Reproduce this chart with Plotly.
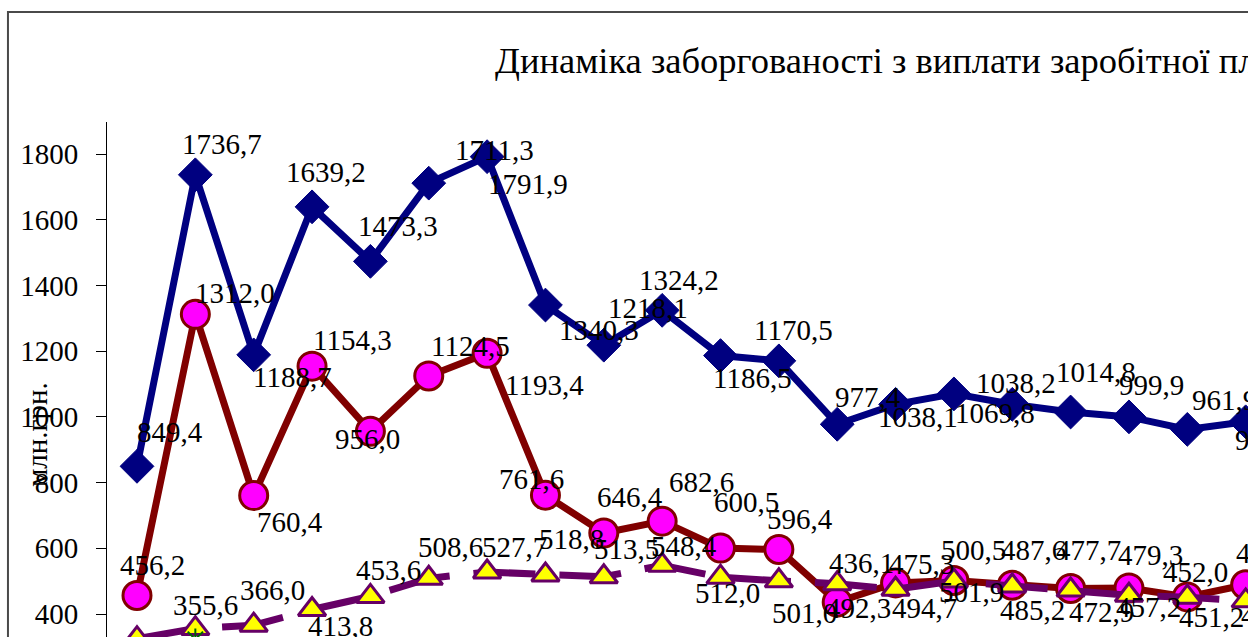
import plotly.graph_objects as go

# ---------------- data ----------------
periods = list(range(20))  # positions of the periods visible in the crop

title_text = "Динаміка заборгованості з виплати заробітної пл"
y_title = "млн.грн."
y_ticks = [400, 600, 800, 1000, 1200, 1400, 1600, 1800]

series_blue = [849.4, 1736.7, 1188.7, 1639.2, 1473.3, 1711.3, 1791.9, 1340.3,
               1218.1, 1324.2, 1186.5, 1170.5, 977.4, 1038.1, 1069.8, 1038.2,
               1014.8, 999.9, 961.9, 985.0]
series_red = [456.2, 1312.0, 760.4, 1154.3, 956.0, 1124.5, 1193.4, 761.6,
              646.4, 682.6, 600.5, 596.4, 436.1, 494.7, 501.9, 487.6,
              477.7, 479.3, 452.0, 489.0]
series_purple = [325.0, 355.6, 366.0, 413.8, 453.6, 508.6, 527.7, 518.8,
                 513.5, 548.4, 512.0, 501.0, 492.3, 475.3, 500.5, 485.2,
                 472.9, 457.2, 451.2, 440.0]
series_green = [None, 323.0] + [None] * 18

# ---------------- label offsets (style: pixel shifts dx, dy(down)) ----------------
off_blue = [(33, -34), (27, -31), (39, 22), (14, -35), (28, -35), (66, -33), (41, 27),
            (54, 25), (44, -37), (17, -30), (32, 22), (15, -31), (31, -27), (22, 13),
            (41, 19), (4, -21), (25, -40), (23, -32), (37, -29), (22, 18)]
off_red = [(16, -31), (40, -21), (36, 26), (40, -26), (-3, 8), (42, -30), (57, 32),
           (-14, -16), (26, -36), (39, -39), (26, -46), (21, -30), (24, -39), (29, 25),
           (18, 11), (21, -35), (18, -38), (22, -33), (8, -25), (23, -32)]
off_purple = [(15, -30), (10, -24), (19, -35), (28, 17), (18, -26), (22, -31), (27, -25),
              (26, -36), (23, -28), (22, -19), (7, 16), (26, 32), (21, 24), (26, -25),
              (20, -31), (20, 24), (31, 22), (20, 12), (24, 20), (28, 14)]

SERIF = "Liberation Serif, Times New Roman, serif"
NAVY = "#000080"
MAROON = "#800000"
PURPLE = "#660066"

fig = go.Figure()

fig.add_trace(go.Scatter(
    x=periods, y=series_blue, mode="lines+markers",
    line=dict(color=NAVY, width=7),
    marker=dict(symbol="diamond", size=26, color=NAVY, line=dict(color=NAVY, width=1)),
    hoverinfo="skip"))

fig.add_trace(go.Scatter(
    x=periods, y=series_red, mode="lines+markers",
    line=dict(color=MAROON, width=7),
    marker=dict(symbol="circle", size=28, color="#FF00FF", line=dict(color=MAROON, width=3)),
    hoverinfo="skip"))

fig.add_trace(go.Scatter(
    x=periods, y=series_purple, mode="lines+markers",
    line=dict(color=PURPLE, width=7, dash="62px,24px"),
    marker=dict(symbol="triangle-up", size=24, color="#FFFF00", line=dict(color=PURPLE, width=3)),
    hoverinfo="skip"))

fig.add_trace(go.Scatter(
    x=periods, y=series_green, mode="markers",
    marker=dict(symbol="asterisk-open", size=18, color="#006600", line=dict(color="#006600", width=2)),
    hoverinfo="skip"))

def fmt(v):
    return f"{v:.1f}".replace(".", ",")

annotations = []
for vals, offs in ((series_blue, off_blue), (series_red, off_red), (series_purple, off_purple)):
    for xi, v, (dx, dy) in zip(periods, vals, offs):
        annotations.append(dict(
            x=xi, y=v, xref="x", yref="y", text=fmt(v), showarrow=False,
            xshift=dx, yshift=-dy, font=dict(family=SERIF, size=29, color="black")))

annotations.append(dict(
    x=-0.0614, y=0.394, xref="paper", yref="paper", text=y_title, showarrow=False,
    xanchor="center", yanchor="middle",
    textangle=-90, font=dict(family=SERIF, size=29, color="black")))

fig.update_layout(
    width=1248, height=637,
    margin=dict(l=107, r=0, t=122, b=0, pad=0),
    paper_bgcolor="white", plot_bgcolor="white",
    showlegend=False,
    font=dict(family=SERIF, color="black"),
    title=dict(text=title_text, x=495 / 1248, xanchor="left", xref="container",
               y=1 - 60 / 637, yanchor="middle", yref="container",
               font=dict(family=SERIF, size=36.5, color="black")),
    annotations=annotations,
    shapes=[dict(type="rect", xref="paper", yref="paper",
                 x0=-0.0868, x1=1.5, y0=-0.5, y1=(637 - 12) / 515,
                 line=dict(color="#4a4a4a", width=2), fillcolor="rgba(0,0,0,0)", layer="above")],
)

fig.update_xaxes(range=[-0.514, 19.04], visible=False, showgrid=False, zeroline=False)
fig.update_yaxes(range=[330, 1897.4], tickvals=y_ticks, ticks="outside", ticklen=10,
                 tickcolor="black", tickwidth=1, showline=True, linecolor="black",
                 linewidth=1, showgrid=False, zeroline=False, ticklabelstandoff=12,
                 tickfont=dict(family=SERIF, size=29, color="black"))

fig.write_html("out.html", config={"displayModeBar": False},
               post_script="document.body.style.margin='0';document.body.style.overflow='hidden';")
